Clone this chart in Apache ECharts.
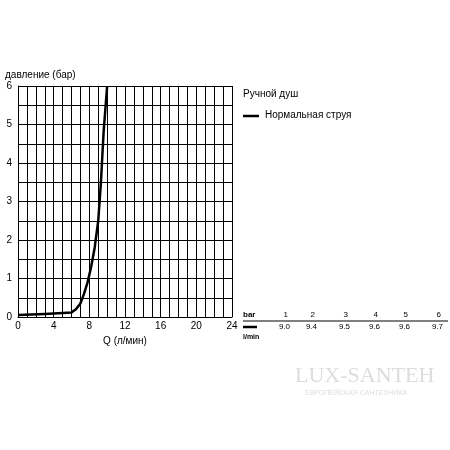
<!DOCTYPE html><html><head><meta charset="utf-8"><script src="https://cdn.jsdelivr.net/npm/echarts@6/dist/echarts.min.js"></script></head><body style="margin:0"><div id="c" style="width:450px;height:450px"></div><script>
const flow=[0,3,6,6.5,7,7.4,7.8,8.2,8.6,9,9.3,9.6,10];
const pressure=[0.05,0.08,0.12,0.2,0.35,0.6,0.9,1.3,1.8,2.5,3.5,4.8,6];
const tblBar=['1','2','3','4','5','6'];
const tblFlow=['9.0','9.4','9.5','9.6','9.6','9.7'];
const tx=[288,315,348,378,408,441];
const f='Liberation Sans, Arial, sans-serif';
const g=[
 {type:'text',left:243,top:89,style:{text:'Ручной душ',font:'10px '+f,fill:'#000'}},
 {type:'line',shape:{x1:243,y1:116,x2:259,y2:116},style:{stroke:'#000',lineWidth:2.5}},
 {type:'text',left:265,top:110,style:{text:'Нормальная струя',font:'10px '+f,fill:'#000'}},
 {type:'text',left:243,top:311,style:{text:'bar',font:'bold 8px '+f,fill:'#000'}},
 {type:'line',shape:{x1:243,y1:321,x2:448,y2:321},style:{stroke:'#000',lineWidth:1}},
 {type:'line',shape:{x1:243,y1:327,x2:257,y2:327},style:{stroke:'#000',lineWidth:2.5}},
 {type:'text',left:243,top:334,style:{text:'l/min',font:'bold 7px '+f,fill:'#000'}},
 {type:'text',left:295,top:365,style:{text:'LUX-SANTEH',font:'22px Liberation Serif, serif',fill:'#ddd'}},
 {type:'text',left:305,top:390,style:{text:'ЕВРОПЕЙСКАЯ САНТЕХНИКА',font:'7px '+f,fill:'#ddd'}}
];
tblBar.forEach((t,i)=>{g.push({type:'text',x:tx[i],y:311,style:{text:t,font:'8px '+f,fill:'#000',align:'right'}});
 g.push({type:'text',x:tx[i]+2,y:323,style:{text:tblFlow[i],font:'8px '+f,fill:'#000',align:'right'}});});
echarts.init(document.getElementById('c')).setOption({
 animation:false,
 grid:{left:18,right:218,top:86,bottom:133},
 xAxis:{type:'value',min:0,max:24,interval:1,name:'Q (л/мин)',nameLocation:'middle',nameGap:18,nameTextStyle:{fontSize:10,color:'#000',fontFamily:f},
  axisLine:{lineStyle:{color:'#000'}},axisTick:{show:false},
  axisLabel:{fontSize:10,color:'#000',fontFamily:f,margin:4,formatter:v=>v%4===0?v:''},
  splitLine:{lineStyle:{color:'#000',width:1}}},
 yAxis:{type:'value',min:0,max:6,interval:0.5,name:'давление (бар)',nameLocation:'end',nameGap:6,nameTextStyle:{fontSize:10,color:'#000',fontFamily:f,align:'left',padding:[0,0,0,-13]},
  axisLine:{lineStyle:{color:'#000'}},axisTick:{show:false},
  axisLabel:{fontSize:10,color:'#000',fontFamily:f,margin:6,formatter:v=>Number.isInteger(v)?v:''},
  splitLine:{lineStyle:{color:'#000',width:1}}},
 series:[{type:'line',data:flow.map((x,i)=>[x,pressure[i]]),smooth:false,showSymbol:false,lineStyle:{color:'#000',width:2.5,join:'round'}}],
 graphic:g
});
</script></body></html>
